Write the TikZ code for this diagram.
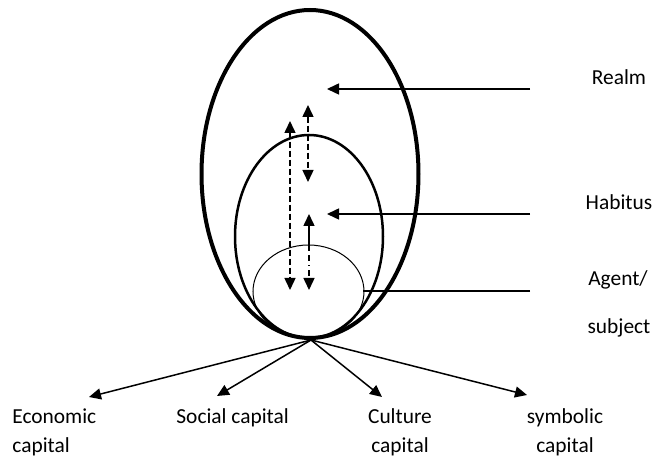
\documentclass[tikz,border=0pt]{standalone}
\usepackage{fontspec}
\setmainfont{Carlito}
\usepackage{tikz}
\usetikzlibrary{arrows.meta}

\begin{document}
\begin{tikzpicture}[x=0.5pt, y=-0.5pt, font=\fontsize{10.7}{13}\selectfont,
    lbl/.style={inner sep=0pt, anchor=base},
    arr/.style={line width=0.75pt, -{Triangle[length=6pt, width=5.5pt]}},
    dbl/.style={line width=0.75pt, dash pattern=on 3pt off 1.5pt, {Triangle[length=6pt, width=5.5pt]}-{Triangle[length=6pt, width=5.5pt]}}]
            \useasboundingbox (0, 0) rectangle (655, 459);
            % the three rings
            \draw [line width=2pt] (310, 174) ellipse [x radius=54.25pt, y radius=82pt];
            \draw [line width=1.25pt] (309, 236.5) ellipse [x radius=37pt, y radius=50.75pt];
            \draw [line width=0.5pt] (308.5, 291.5) ellipse [x radius=27.75pt, y radius=23.25pt];
            % labels on the right
            \node (realm) at (619, 85) [lbl] {Realm};
            \node (habitus) at (619, 210) [lbl] {Habitus};
            \node (agent) at (618, 286) [lbl] {Agent/};
            \node (subject) at (619, 334) [lbl] {subject};
            \coordinate (realmstart) at (530, 89);
            \coordinate (realmend) at (327, 89);
            \coordinate (habitusstart) at (530, 214);
            \coordinate (habitusend) at (327, 214);
            \coordinate (agentstart) at (530, 291);
            \coordinate (agentend) at (363, 291);
            \draw [arr] (realmstart) -- (realmend);
            \draw [arr] (habitusstart) -- (habitusend);
            \draw [line width=0.75pt] (agentstart) -- (agentend);
            % arrows inside
            \coordinate (ltop) at (290, 121);
            \coordinate (lbot) at (290, 290);
            \coordinate (rtop) at (308, 105);
            \coordinate (rbot) at (308, 182);
            \coordinate (mtop) at (309, 214);
            \coordinate (mmid) at (309, 250);
            \coordinate (mbot) at (309, 290);
            \draw [dbl] (ltop) -- (lbot);
            \draw [dbl] (rtop) -- (rbot);
            \draw [arr] (mmid) -- (mtop);
            \draw [arr, dash pattern=on 0.6pt off 2pt on 3pt off 2pt] (mmid) -- (mbot);
            % capitals below
            \coordinate (base) at (311, 340);
            \node (econ) at (12, 424) [lbl, anchor=base west] {Economic};
            \node (econ2) at (12, 453) [lbl, anchor=base west] {capital};
            \node (social) at (176, 424) [lbl, anchor=base west] {Social capital};
            \node (culture) at (400, 424) [lbl] {Culture};
            \node (culture2) at (400, 453) [lbl] {capital};
            \node (symbolic) at (565, 424) [lbl] {symbolic};
            \node (symbolic2) at (565, 453) [lbl] {capital};
            \coordinate (econtip) at (89, 397);
            \coordinate (socialtip) at (217, 396);
            \coordinate (culturetip) at (382, 397);
            \coordinate (symbolictip) at (527, 395);
            \draw [arr] (base) -- (econtip);
            \draw [arr] (base) -- (socialtip);
            \draw [arr] (base) -- (culturetip);
            \draw [arr] (base) -- (symbolictip);
        \end{tikzpicture}
\end{document}
